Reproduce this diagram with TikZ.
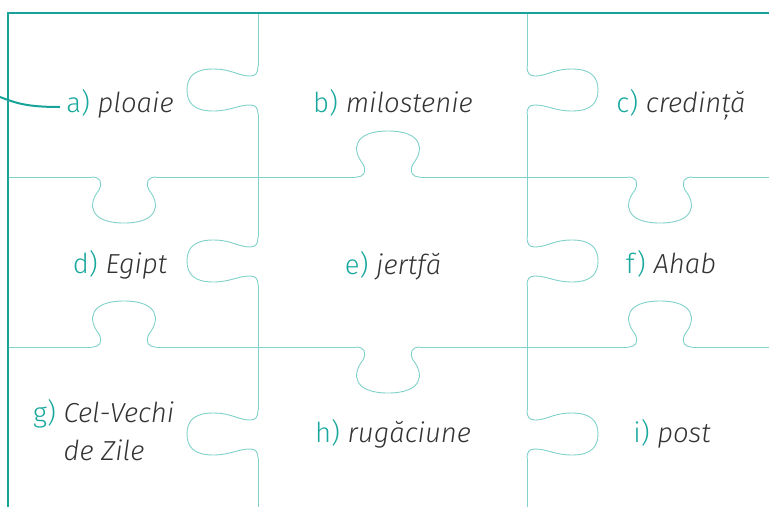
\documentclass[tikz,border=0pt]{standalone}
\usepackage{fontspec}
\setmainfont{Fira Sans}[UprightFont=* Light, ItalicFont=* Light Italic]
\definecolor{frameC}{HTML}{17A39A}
\definecolor{gridC}{HTML}{7FD1CA}
\definecolor{labC}{HTML}{1AA89E}
\definecolor{wordC}{HTML}{333335}
\newcommand{\labtxt}[1]{\textcolor{labC}{#1}}
\newcommand{\wordtxt}[1]{\textit{#1}}
\begin{document}
\begin{tikzpicture}[x=1pt,y=-1pt,
  frame/.style={draw=frameC, line width=1.6pt},
  grid/.style={draw=gridC, line width=0.9pt},
  leader/.style={draw=frameC, line width=2pt},
  lbl/.style={anchor=base, inner sep=0pt, font=\fontsize{27.5}{30}\selectfont, text=wordC},
  lblw/.style={lbl, anchor=base west},
  vtab/.pic={\path[grid] (-32,0) .. controls (-24,0) and (-21,5) .. (-25,13)
     .. controls (-37,28) and (-34,46) .. (0,46)
     .. controls (34,46) and (37,28) .. (25,13)
     .. controls (21,5) and (24,0) .. (32,0);},
  htab/.pic={\path[grid] (0,-24) .. controls (0,-17) and (2,-14) .. (8,-14)
     .. controls (20,-14) and (26,-21) .. (45,-21)
     .. controls (65,-21) and (71,-12) .. (71,0)
     .. controls (71,12) and (65,21) .. (45,21)
     .. controls (28,21) and (20,15) .. (8,15)
     .. controls (2,15) and (0,18) .. (0,24);}
]
\useasboundingbox (0,0) rectangle (769,507);
% horizontal grid lines
\draw[grid] (8,177) -- (92,177) (156,177) -- (356,177) (420,177) -- (628,177) (692,177) -- (769,177);
\draw[grid] (8,347) -- (92,347) (156,347) -- (356,347) (420,347) -- (628,347) (692,347) -- (769,347);
\pic at (124,177) {vtab};
\pic[yscale=-1] at (388,177) {vtab};
\pic at (660,177) {vtab};
\pic[yscale=-1] at (124,347) {vtab};
\pic at (388,347) {vtab};
\pic[yscale=-1] at (660,347) {vtab};
% vertical grid lines
\draw[grid] (258,13) -- (258,66) (258,114) -- (258,237) (258,285) -- (258,410) (258,458) -- (258,507);
\draw[grid] (527,13) -- (527,66) (527,114) -- (527,237) (527,285) -- (527,410) (527,458) -- (527,507);
\pic[xscale=-1] at (258,90) {htab};
\pic[xscale=-1] at (258,261) {htab};
\pic[xscale=-1] at (258,434) {htab};
\pic at (527,90) {htab};
\pic at (527,261) {htab};
\pic at (527,434) {htab};
% frame
\draw[frame] (8,507) -- (8,13) -- (769,13);
% texts
\node[lbl] (a) at (120,112) {\labtxt{a)} \wordtxt{ploaie}};
\node[lbl] (b) at (393,112) {\labtxt{b)} \wordtxt{milostenie}};
\node[lbl] (c) at (681,112) {\labtxt{c)} \wordtxt{credință}};
\node[lbl] (d) at (120,273) {\labtxt{d)} \wordtxt{Egipt}};
\node[lbl] (e) at (393,274) {\labtxt{e)} \wordtxt{jertfă}};
\node[lbl] (f) at (671,273) {\labtxt{f)} \wordtxt{Ahab}};
\node[lblw] (g) at (33,422) {\labtxt{g)} \wordtxt{Cel-Vechi}};
\node[lblw] (g2) at (33,460) {\phantom{\labtxt{g)} }\wordtxt{de Zile}};
\node[lbl] (h) at (393,442) {\labtxt{h)} \wordtxt{rugăciune}};
\node[lbl] (i) at (672,442) {\labtxt{i)} \wordtxt{post}};
% leader
\coordinate (leadA) at (0,97);
\coordinate (leadB) at (60,107);
\draw[leader] (leadA) .. controls (16,103) and (26,107) .. (leadB);
\end{tikzpicture}
\end{document}
